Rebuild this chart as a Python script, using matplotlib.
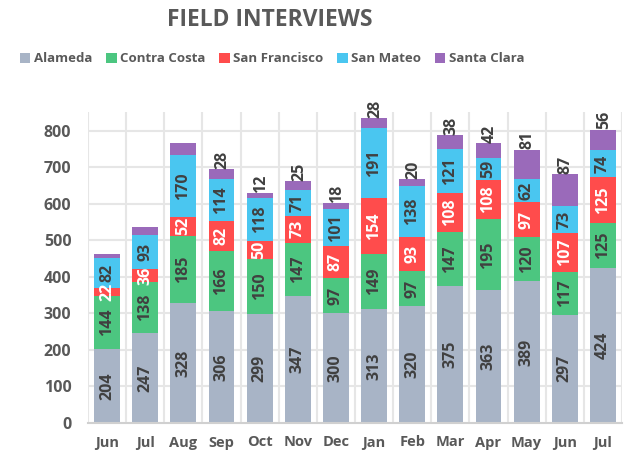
import matplotlib
matplotlib.use("Agg")
import matplotlib.pyplot as plt
import numpy as np

months = ["Jun", "Jul", "Aug", "Sep", "Oct", "Nov", "Dec", "Jan", "Feb", "Mar", "Apr", "May", "Jun", "Jul"]
alameda = [204, 247, 328, 306, 299, 347, 300, 313, 320, 375, 363, 389, 297, 424]
contra_costa = [144, 138, 185, 166, 150, 147, 97, 149, 97, 147, 195, 120, 117, 125]
san_francisco = [22, 36, 52, 82, 50, 73, 87, 154, 93, 108, 108, 97, 107, 125]
san_mateo = [82, 93, 170, 114, 118, 71, 101, 191, 138, 121, 59, 62, 73, 74]
santa_clara = [11, 23, 31, 28, 12, 25, 18, 28, 20, 38, 42, 81, 87, 56]
santa_clara_shown = [False, False, False, True, True, True, True, True, True, True, True, True, True, True]

series_names = ["Alameda", "Contra Costa", "San Francisco", "San Mateo", "Santa Clara"]
colors = ["#A8B4C6", "#4CC680", "#FF4C4C", "#4AC6F0", "#9A6ABA"]
label_colors = ["#404040", "#404040", "#FFFFFF", "#404040", "#404040"]

FONT = "Open Sans"
TXT = "#595959"

fig = plt.figure(figsize=(6.32, 4.55), dpi=100)
ax = fig.add_axes([88/632, 1-423/455, (622-88)/632, (423-112)/455])

x = np.arange(len(months))
width = 0.68
data = [alameda, contra_costa, san_francisco, san_mateo, santa_clara]
bottom = np.zeros(len(months))
bars = []
for i, (vals, name, col) in enumerate(zip(data, series_names, colors)):
    vals = np.array(vals, dtype=float)
    b = ax.bar(x, vals, width, bottom=bottom, color=col, label=name, zorder=3)
    bars.append(b)
    for j in range(len(months)):
        if i < 4:
            ax.text(x[j], bottom[j] + vals[j] / 2, str(int(vals[j])), rotation=90,
                    ha="center", va="center", color=label_colors[i],
                    fontsize=11.5, fontweight="bold", family=FONT, zorder=4)
        else:
            if santa_clara_shown[j]:
                ax.text(x[j] + 0.03, bottom[j] + vals[j] + 1, str(int(vals[j])), rotation=90,
                        ha="center", va="bottom", color="#404040",
                        fontsize=11.5, fontweight="bold", family=FONT, zorder=4,
                        clip_on=False)
    bottom += vals

ax.set_xlim(-0.5, len(months) - 0.5)
ax.set_ylim(0, 852)
ax.set_yticks(range(0, 801, 100))
ax.set_xticks(x)
ax.set_xticklabels(months)
for lbl in ax.get_xticklabels():
    lbl.set_family(FONT); lbl.set_fontweight("bold"); lbl.set_fontsize(10.5); lbl.set_color(TXT)
for lbl in ax.get_yticklabels():
    lbl.set_family(FONT); lbl.set_fontweight("bold"); lbl.set_fontsize(11.5); lbl.set_color(TXT)
ax.tick_params(axis="both", length=0)
ax.tick_params(axis="x", pad=9)
ax.tick_params(axis="y", pad=12)

# grid: horizontal at 100s, vertical at category boundaries
for yv in range(100, 801, 100):
    ax.axhline(yv, color="#E6E6E6", lw=1.5, zorder=1)
for xb in np.arange(-0.5, len(months) + 0.5, 1.0):
    ax.axvline(xb, color="#E6E6E6", lw=1.5, zorder=1)

for s in ["top", "right", "left"]:
    ax.spines[s].set_visible(False)
ax.spines["bottom"].set_color("#D0D0D0")
ax.spines["bottom"].set_linewidth(1.5)
ax.spines["bottom"].set_zorder(5)

fig.text(270/632, 1-20/455, "FIELD INTERVIEWS", ha="center", va="center",
         fontsize=16.5, fontweight="bold", color=TXT, family=FONT)

leg = fig.legend(handles=bars, labels=series_names, loc="center", ncol=5,
                 bbox_to_anchor=(272/632, 1-59/455), frameon=False,
                 handlelength=0.8, handleheight=0.8, handletextpad=0.25,
                 columnspacing=1.05, prop={"family": FONT, "weight": "bold", "size": 9.5})
for t in leg.get_texts():
    t.set_color(TXT)

fig.savefig("out.png", dpi=100)
